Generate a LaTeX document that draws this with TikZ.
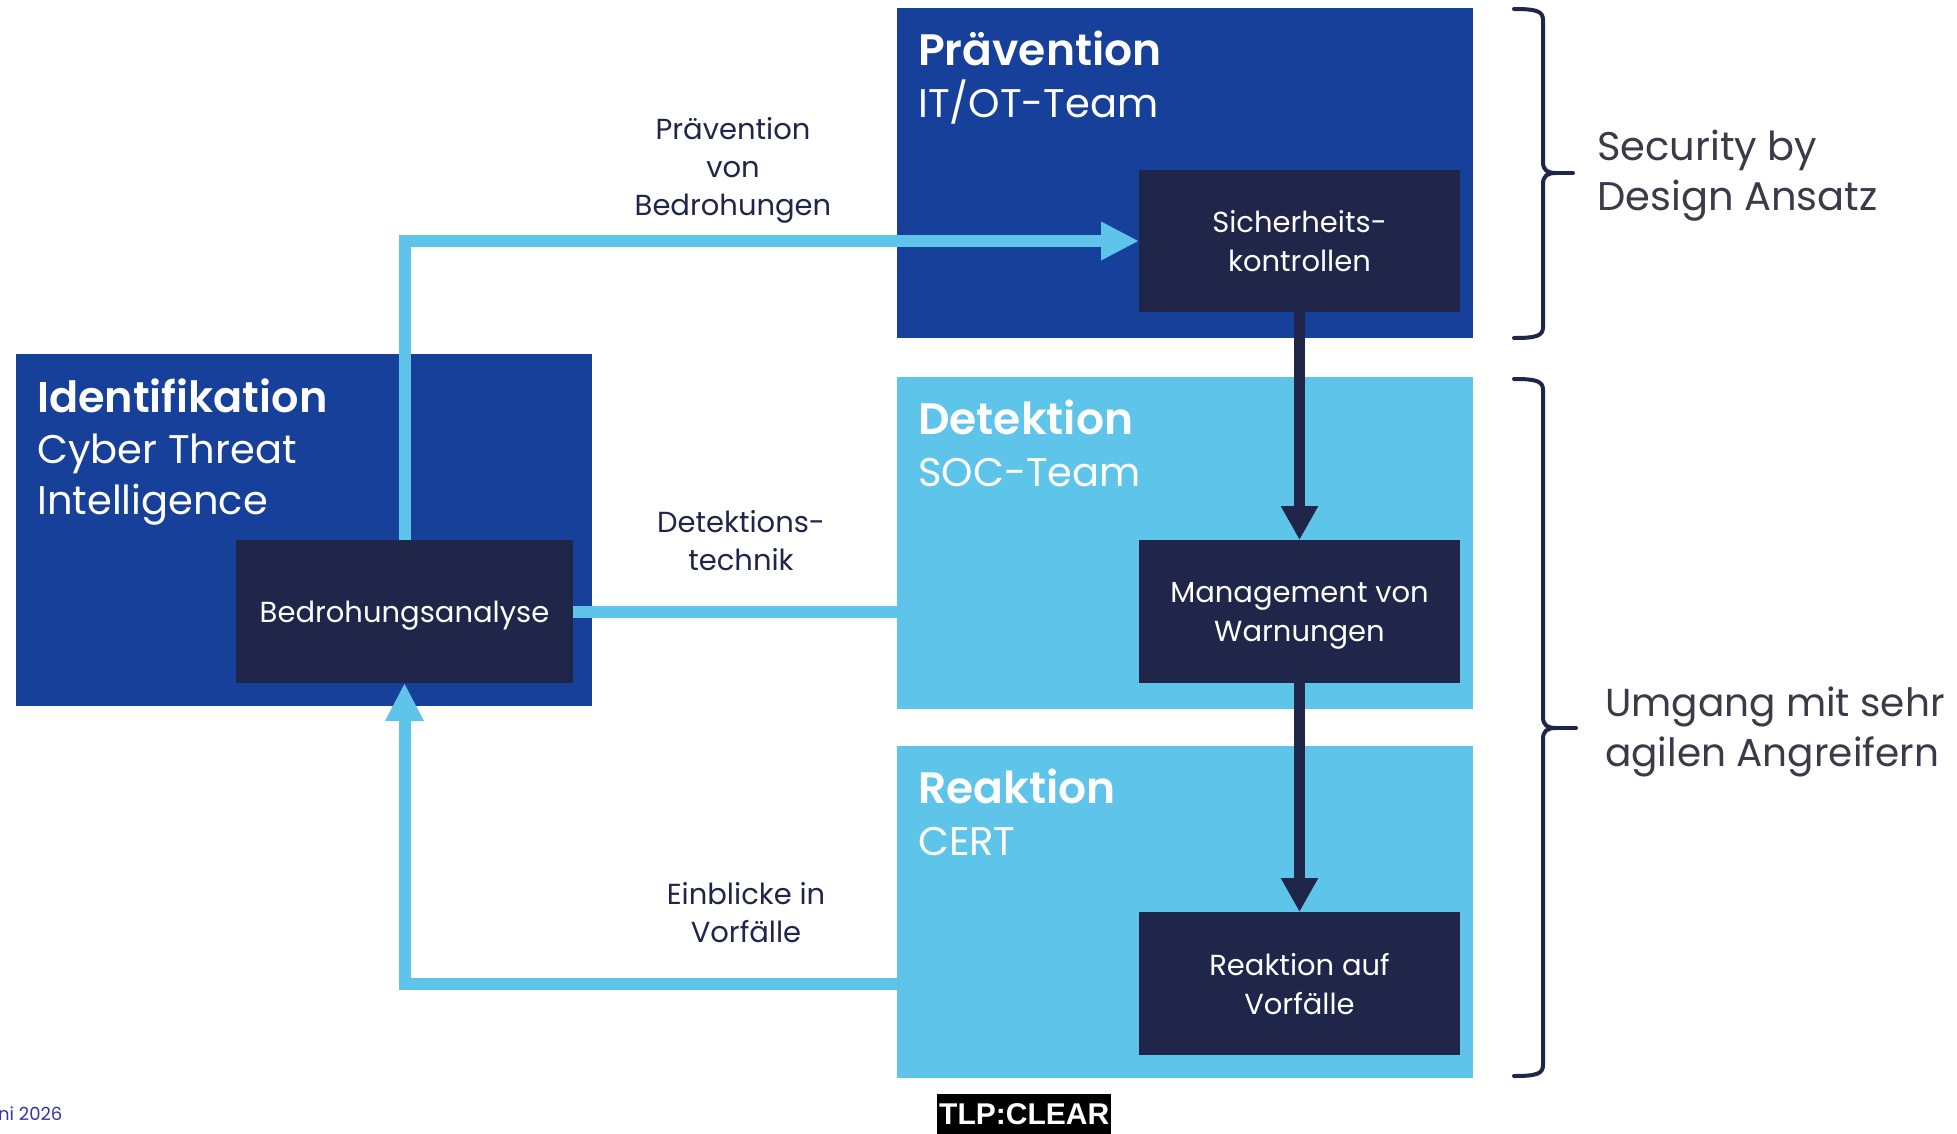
\documentclass[tikz,border=0pt]{standalone}
\usepackage{fontspec}
\setmainfont{Poppins}[BoldFont={Poppins SemiBold}]
\newfontfamily\tlpfont{Liberation Sans}
\usetikzlibrary{arrows.meta}
\definecolor{areadark}{HTML}{17409A}
\definecolor{arealight}{HTML}{5FC4EA}
\definecolor{navy}{HTML}{20254A}
\definecolor{sidetext}{HTML}{3A3A48}
\definecolor{datecol}{HTML}{3434B0}

\begin{document}
\begin{tikzpicture}[x=1pt,y=-1pt,
  area/.style={anchor=north west, inner sep=0pt, outer sep=0pt,
    minimum width=576pt, minimum height=332pt},
  task/.style={anchor=north west, fill=navy, text=white, align=center,
    inner sep=0pt, outer sep=0pt, minimum width=321pt, minimum height=143pt,
    text depth=0pt, font=\fontsize{29}{39}\selectfont},
  ttl/.style={anchor=base west, text=white, inner sep=0pt,
    font=\fontsize{44}{52}\selectfont\bfseries},
  sub/.style={anchor=base west, text=white, inner sep=0pt,
    font=\fontsize{40}{52}\selectfont},
  lbl/.style={align=center, text=navy, inner sep=0pt,
    font=\fontsize{29}{38}\selectfont},
  side/.style={anchor=base west, text=sidetext, inner sep=0pt,
    font=\fontsize{40}{50}\selectfont},
  flow/.style={draw=arealight, line width=12pt,
    -{Triangle[length=38pt,width=36pt]}},
  plain/.style={draw=arealight, line width=12pt},
  chain/.style={draw=navy, line width=11pt,
    -{Triangle[length=34pt,width=35pt]}},
  brace/.style={draw=navy, line width=4pt, line cap=round}
]
\path[use as bounding box, fill=white] (0,0) rectangle (1957,1133);

% team areas
\node[area, fill=areadark, minimum height=330pt] (P) at (897,8) {};
\node[area, fill=arealight] (D) at (897,377) {};
\node[area, fill=arealight] (R) at (897,746) {};
\node[area, fill=areadark, minimum height=352pt] (I) at (16,354) {};

% area titles
\node[ttl] (Pt) at (918,65) {Prävention};
\node[sub] (Ps) at (918,117) {IT/OT-Team};
\node[ttl] (Dt) at (918,434) {Detektion};
\node[sub] (Ds) at (918,486) {SOC-Team};
\node[ttl] (Rt) at (918,803) {Reaktion};
\node[sub] (Rs) at (918,855) {CERT};
\node[ttl, font=\fontsize{43}{52}\selectfont\bfseries] (It) at (37,412) {Identifikation};
\node[sub] (Is1) at (37,463) {Cyber Threat};
\node[sub] (Is2) at (37,514) {Intelligence};

% activities
\node[task, minimum height=142pt] (SK) at (1139,170) {Sicherheits-\\kontrollen};
\node[task] (M) at (1139,540) {Management von\\Warnungen};
\node[task] (RV) at (1139,912) {Reaktion auf\\Vorfälle};
\node[task, minimum width=337pt] (B) at (236,540) {Bedrohungsanalyse};

% connectors
\draw[flow] (B.north) |- (SK.west);
\draw[plain] (B.east) -- (B.east -| D.west);
\draw[flow] (R.west |- RV.center) -| (B.south);
\draw[chain] (SK.south) -- (M.north);
\draw[chain] (M.south) -- (RV.north);

% connector labels
\node[lbl] (l1) at (733,170) {Prävention\\von\\Bedrohungen};
\node[lbl] (l2) at (741,541) {Detektions-\\technik};
\node[lbl] (l3) at (746,913) {Einblicke in\\Vorfälle};

% braces
\draw[brace] (1514,9) .. controls (1536,9) and (1543,11) .. (1543,20)
  -- (1543,162) .. controls (1543,170) and (1547,173) .. (1556,173)
  .. controls (1547,173) and (1543,176) .. (1543,184)
  -- (1543,327) .. controls (1543,336) and (1536,338) .. (1514,338);
\draw[brace] (1556,173) -- (1573,173);
\draw[brace] (1514,379) .. controls (1536,379) and (1543,381) .. (1543,390)
  -- (1543,717) .. controls (1543,725) and (1547,728) .. (1556,728)
  .. controls (1547,728) and (1543,731) .. (1543,739)
  -- (1543,1065) .. controls (1543,1074) and (1536,1076) .. (1514,1076);
\draw[brace] (1556,728) -- (1576,728);

\node[side] (s1) at (1597,160) {Security by};
\node[side] (s2) at (1597,210) {Design Ansatz};
\node[side, font=\fontsize{39}{50}\selectfont] (u1) at (1605,716) {Umgang mit sehr};
\node[side, font=\fontsize{39}{50}\selectfont] (u2) at (1605,766) {agilen Angreifern};

% footer
\node[anchor=base west, inner sep=0pt, text=datecol,
  font=\fontsize{18}{20}\selectfont] (date) at (-2,1120) {ni 2026};
\node[anchor=north west, fill=black, text=white, inner sep=0pt,
  minimum width=174pt, minimum height=40pt,
  font=\tlpfont\bfseries\fontsize{30}{32}\selectfont] (tlp) at (937,1094) {TLP:CLEAR};
\end{tikzpicture}
\end{document}
